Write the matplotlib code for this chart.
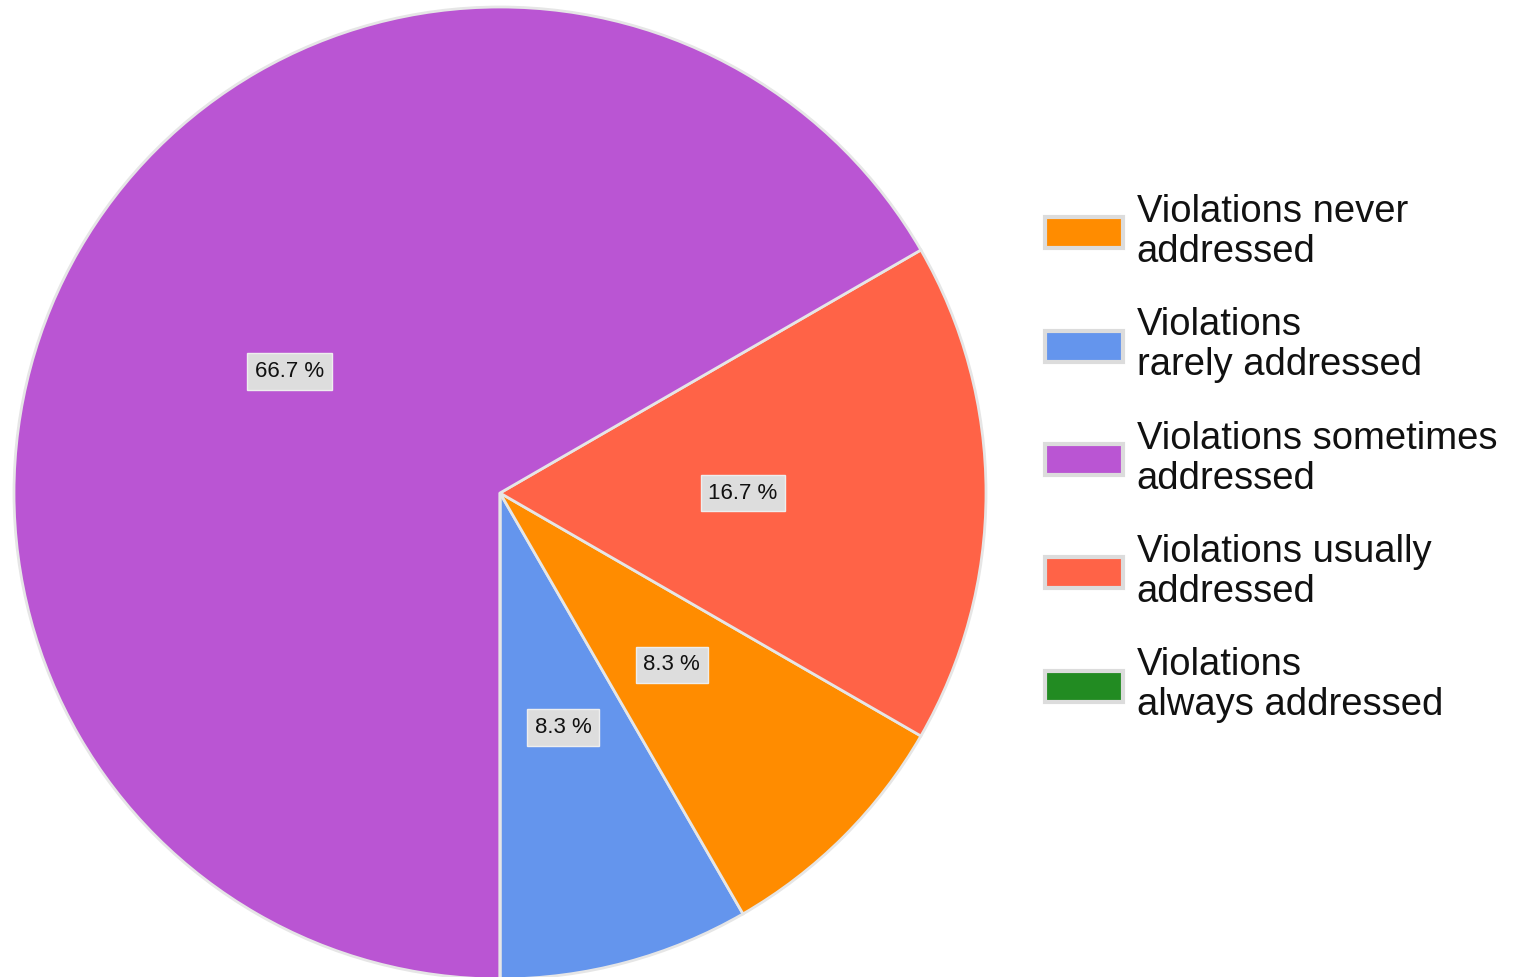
import matplotlib.pyplot as plt
from matplotlib.patches import Patch

# Réponses à la question (12 réponses au total)
categories = ['Violations never\naddressed',
              'Violations\nrarely addressed',
              'Violations sometimes\naddressed',
              'Violations usually\naddressed',
              'Violations\nalways addressed']
counts = [1, 1, 8, 2, 0]
colors = ['#FF8C00', '#6495ED', '#BA55D3', '#FF6347', '#228B22']

# ordre des parts dans le camembert (sens anti-horaire depuis le bas)
draw_order = [1, 0, 3, 2, 4]

plt.rcParams['font.family'] = ['Liberation Sans', 'DejaVu Sans']

fig = plt.figure(figsize=(15.14, 9.77), dpi=100)
W, H = 1514, 977
cx, cy, r = 500, 484, 486
ax = fig.add_axes([(cx - r) / W, (cy - r) / H, 2 * r / W, 2 * r / H])

vals = [counts[i] for i in draw_order]
cols = [colors[i] for i in draw_order]

def fmt(p):
    return f'{p:.1f} %' if p > 0 else ''

wedges, texts, autotexts = ax.pie(
    vals, colors=cols, startangle=270, counterclock=True,
    autopct=fmt, pctdistance=0.5,
    wedgeprops=dict(edgecolor='#e6e6e6', linewidth=2),
    textprops=dict(fontsize=16, color='#111111'))

for t in autotexts:
    t.set_bbox(dict(boxstyle='square,pad=0.35', facecolor='#dddddd',
                    edgecolor='#eeeeee', linewidth=1))

ax.set_xlim(-1, 1)
ax.set_ylim(-1, 1)
ax.axis('off')

# Légende
handles = [Patch(facecolor=c, edgecolor='#dcdcdc', linewidth=3) for c in colors]
leg = fig.legend(handles, categories, loc='upper left',
                 bbox_to_anchor=(1045 / W, 1 - 194 / H),
                 frameon=False, fontsize=27.5, borderpad=0, borderaxespad=0,
                 handlelength=2.05, handleheight=0.88, handletextpad=0.35,
                 labelspacing=0.98)
for t in leg.get_texts():
    t.set_linespacing(1.14)
    t.set_color('#111111')

fig.savefig('out.png', dpi=100)
